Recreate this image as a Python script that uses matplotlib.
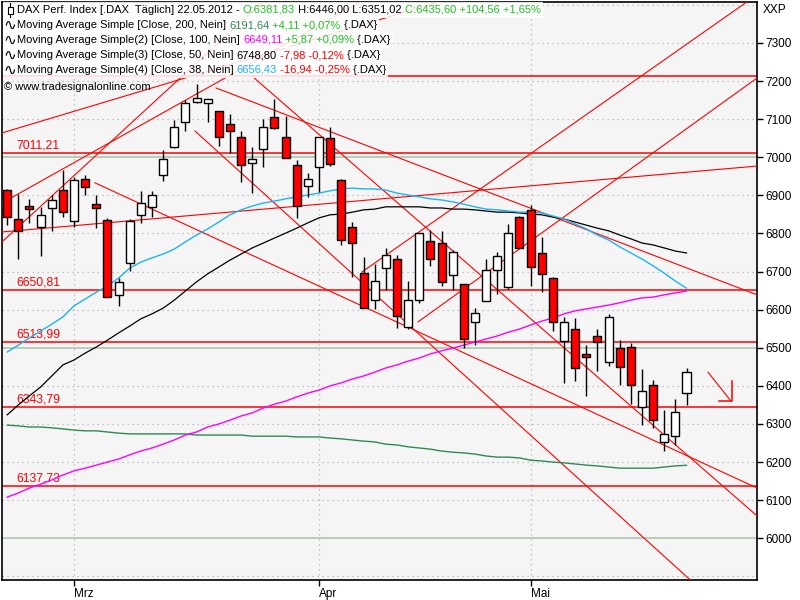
import matplotlib
matplotlib.use("Agg")
import matplotlib.pyplot as plt
from matplotlib.lines import Line2D
from matplotlib.patches import Rectangle
from matplotlib.transforms import Bbox

plt.rcParams['font.family'] = ['Liberation Sans', 'DejaVu Sans']

# --- data (DAX daily, 22.02.2012 - 22.05.2012) ---
dates = ['22.02', '23.02', '24.02', '27.02', '28.02', '29.02',
         '01.03', '02.03', '05.03', '06.03', '07.03', '08.03', '09.03', '12.03', '13.03', '14.03',
         '15.03', '16.03', '19.03', '20.03', '21.03', '22.03', '23.03', '26.03', '27.03', '28.03',
         '29.03', '30.03',
         '02.04', '03.04', '04.04', '05.04', '10.04', '11.04', '12.04', '13.04', '16.04', '17.04',
         '18.04', '19.04', '20.04', '23.04', '24.04', '25.04', '26.04', '27.04', '30.04',
         '02.05', '03.05', '04.05', '07.05', '08.05', '09.05', '10.05', '11.05', '14.05', '15.05',
         '16.05', '17.05', '18.05', '21.05', '22.05']
month_names = {'03': 'Mrz', '04': 'Apr', '05': 'Mai'}

opens = [6914, 6838, 6872, 6817, 6867, 6914, 6833, 6943, 6877, 6835, 6639, 6723, 6849, 6870, 6954, 7027,
         7093, 7145, 7142, 7122, 7087, 7053, 6985, 7022, 7106, 7053, 6980, 6925, 6975, 7051, 6940, 6817,
         6696, 6625, 6709, 6733, 6555, 6625, 6780, 6775, 6691, 6667, 6568, 6623, 6704, 6660, 6843, 6862,
         6749, 6683, 6518, 6549, 6484, 6531, 6463, 6499, 6502, 6345, 6402, 6253, 6268, 6381.83]
highs = [6918, 6904, 6891, 6870, 6901, 6967, 6948, 6954, 6901, 6841, 6683, 6838, 6912, 6912, 7019, 7098,
         7150, 7192, 7153, 7122, 7114, 7069, 7027, 7101, 7153, 7108, 6993, 6959, 7053, 7080, 6943, 6830,
         6738, 6720, 6762, 6744, 6675, 6801, 6809, 6807, 6757, 6667, 6604, 6733, 6751, 6825, 6846, 6875,
         6791, 6686, 6581, 6578, 6507, 6549, 6589, 6520, 6513, 6444, 6415, 6337, 6366, 6446.00]
lows = [6822, 6733, 6828, 6741, 6807, 6843, 6817, 6901, 6814, 6633, 6610, 6702, 6828, 6843, 6938, 7024,
        7069, 7142, 7093, 7030, 7011, 6935, 6906, 6975, 7074, 6998, 6841, 6896, 6909, 6977, 6770, 6686,
        6604, 6602, 6652, 6552, 6549, 6618, 6715, 6662, 6652, 6499, 6507, 6623, 6641, 6654, 6762, 6662,
        6646, 6544, 6408, 6413, 6374, 6439, 6452, 6402, 6352, 6297, 6290, 6229, 6245, 6351.02]
closes = [6843, 6807, 6864, 6849, 6888, 6856, 6940, 6922, 6867, 6633, 6673, 6833, 6880, 6901, 6996, 7080,
          7142, 7156, 7153, 7053, 7069, 6980, 6996, 7080, 7077, 6998, 6872, 6943, 7053, 6982, 6783, 6775,
          6604, 6675, 6744, 6583, 6625, 6801, 6733, 6673, 6751, 6523, 6591, 6704, 6741, 6801, 6762, 6712,
          6694, 6568, 6568, 6447, 6476, 6515, 6581, 6450, 6402, 6387, 6310, 6274, 6331, 6435.60]

sma200 = [6297, 6295, 6292, 6292, 6290, 6287, 6284, 6282, 6282, 6279, 6276, 6274, 6274, 6274, 6274, 6274,
          6274, 6271, 6271, 6271, 6271, 6271, 6268, 6268, 6268, 6268, 6266, 6266, 6266, 6263, 6261, 6258,
          6255, 6253, 6247, 6245, 6240, 6237, 6234, 6229, 6226, 6224, 6221, 6216, 6213, 6213, 6211, 6205,
          6203, 6200, 6198, 6195, 6192, 6190, 6187, 6184, 6184, 6184, 6184, 6187, 6190, 6191.64]
sma100 = [6108, 6119, 6132, 6142, 6153, 6166, 6177, 6184, 6192, 6200, 6208, 6219, 6229, 6237, 6247, 6258,
          6271, 6279, 6292, 6300, 6310, 6321, 6329, 6342, 6352, 6360, 6371, 6381, 6389, 6400, 6408, 6418,
          6426, 6436, 6447, 6455, 6465, 6473, 6484, 6492, 6499, 6507, 6515, 6523, 6531, 6541, 6549, 6560,
          6570, 6578, 6589, 6597, 6602, 6607, 6612, 6618, 6625, 6631, 6633, 6639, 6644, 6649.11]
sma50 = [6324, 6350, 6374, 6397, 6426, 6455, 6468, 6486, 6502, 6520, 6539, 6557, 6576, 6589, 6604, 6625,
         6649, 6673, 6694, 6712, 6730, 6746, 6762, 6775, 6788, 6801, 6814, 6828, 6841, 6849, 6851, 6856,
         6862, 6864, 6870, 6870, 6870, 6870, 6867, 6867, 6864, 6864, 6862, 6859, 6856, 6856, 6854, 6851,
         6849, 6843, 6838, 6830, 6822, 6814, 6807, 6796, 6786, 6775, 6770, 6762, 6754, 6748.80]
sma38 = [6489, 6507, 6526, 6544, 6562, 6581, 6610, 6628, 6646, 6662, 6683, 6709, 6725, 6736, 6746, 6759,
         6778, 6796, 6812, 6830, 6849, 6862, 6872, 6880, 6885, 6891, 6896, 6901, 6906, 6912, 6917, 6919,
         6917, 6917, 6914, 6906, 6901, 6896, 6891, 6888, 6883, 6877, 6870, 6864, 6862, 6859, 6856, 6856,
         6854, 6846, 6838, 6825, 6812, 6796, 6783, 6765, 6749, 6733, 6715, 6696, 6675, 6656.43]

# horizontal support / resistance levels
levels = [7213.0, 7011.21, 6650.81, 6513.99, 6343.79, 6137.73]
level_labels = ['', '7011,21', '6650,81', '6513,99', '6343,79', '6137,73']

# hand-drawn trend lines: start bar, start price, end bar, end price
trend_x0 = [-0.47, -0.47, -0.47, -0.47, 7.88, 16.86, 18.75, 22.07, 31.86, 36.89]
trend_p0 = [7064, 6778, 6880, 6804, 6933, 7069, 7182, 7211, 6699, 6568]
trend_x1 = [38.78, 22.97, 31.77, 67.33, 67.33, 61.32, 67.33, 67.33, 66.43, 67.33]
trend_p1 = [7408, 7408, 7408, 6977, 6132, 5891, 6639, 6059, 7408, 7208]

# small arrow drawn at the right
arrow_x = [62.93, 65.0]
arrow_p = [6436, 6360]
arrow_head_x = [63.92, 65.09, 65.09]
arrow_head_p = [6360, 6360, 6413]

W, H = 800, 600
RED = '#ff0000'
fig = plt.figure(figsize=(8, 6), dpi=100)
ax = fig.add_axes([2 / W, 20 / H, 755 / W, 578 / H])
ax.set_facecolor('#f5f5f5')
xs = list(range(len(dates)))
ax.set_xlim(-0.467, 67.33)
ax.set_ylim(5890.5, 7407.6)

# grid
for v in range(5900, 7401, 100):
    if v % 500 == 0:
        ax.axhline(v, color='#b9ccb9', lw=1.4, zorder=1)
    else:
        ax.axhline(v, color='#b4b4b4', lw=0.9, ls=(0, (1, 3)), zorder=1)
month_idx = [i for i in range(1, len(dates)) if dates[i][3:] != dates[i - 1][3:]]
for i in month_idx:
    ax.axvline(i, color='#a9bda9', lw=0.9, ls=(0, (1, 3)), zorder=1)

# levels
for v, lab in zip(levels, level_labels):
    ax.axhline(v, color=RED, lw=1.1, zorder=2)
    if lab:
        ax.text(0.79, v + 4, lab, color=RED, fontsize=8.8, va='bottom', ha='left', zorder=2)

# trend lines
for a, b, c, d in zip(trend_x0, trend_p0, trend_x1, trend_p1):
    ax.plot([a, c], [b, d], color=RED, lw=0.8, zorder=3)
ax.plot(arrow_x, arrow_p, color=RED, lw=0.8, zorder=3)
ax.plot(arrow_head_x, arrow_head_p, color=RED, lw=1.1, zorder=3)

# moving averages
ax.plot(xs, sma200, color='#2e8b57', lw=1.0, zorder=4)
ax.plot(xs, sma100, color='#ff00ff', lw=1.0, zorder=4)
ax.plot(xs, sma50, color='black', lw=0.9, zorder=4)
ax.plot(xs, sma38, color='#1eb4f0', lw=1.0, zorder=4)

# candles
bottoms = [min(o, c) for o, c in zip(opens, closes)]
heights = [max(abs(c - o), 1.5) for o, c in zip(opens, closes)]
colors = ['white' if c >= o else RED for o, c in zip(opens, closes)]
ax.vlines(xs, lows, highs, color='black', lw=1.0, zorder=5)
ax.bar(xs, heights, bottom=bottoms, width=0.72, color=colors, edgecolor='black', lw=1.0, zorder=6)

# axes styling
for s in ax.spines.values():
    s.set_color('black')
    s.set_linewidth(1.2)
ax.yaxis.tick_right()
ax.set_yticks(range(6000, 7301, 100))
ax.set_yticklabels([str(v) for v in range(6000, 7301, 100)])
ax.set_xticks(month_idx)
ax.set_xticklabels([month_names[dates[i][3:]] for i in month_idx], ha='left')
ax.tick_params(axis='both', direction='out', length=4, width=1, colors='black', labelsize=8.5, pad=2)
fig.text(763 / W, 1 - 10 / H, 'XXP', fontsize=8.5, va='center', ha='left')

# legend header
GREEN = '#22c022'
FS = 8
WAVE = '∿'
legend_rows = [
    (17, 10, [('DAX Perf. Index [.DAX  Täglich] 22.05.2012 - ', 'black'), ('O:6381,83', GREEN),
              (' H:6446,00 L:6351,02 ', 'black'), ('C:6435,60 +104,56 +1,65%', GREEN)]),
    (17, 25, [('Moving Average Simple [Close, 200, Nein] ', 'black'), ('6191,64', '#2e8b57'),
              (' +4,11 +0,07%', GREEN), (' {.DAX}', 'black')]),
    (17, 40, [('Moving Average Simple(2) [Close, 100, Nein] ', 'black'), ('6649,11', '#ff00ff'),
              (' +5,87 +0,09%', GREEN), (' {.DAX}', 'black')]),
    (17, 55, [('Moving Average Simple(3) [Close, 50, Nein] ', 'black'), ('6748,80', 'black'),
              (' -7,98 -0,12%', RED), (' {.DAX}', 'black')]),
    (17, 70, [('Moving Average Simple(4) [Close, 38, Nein] ', 'black'), ('6656,43', '#1eb4f0'),
              (' -16,94 -0,25%', RED), (' {.DAX}', 'black')]),
]
rows_art = []
for x0, yc, parts in legend_rows:
    arts = []
    for s, c in parts:
        if not arts:
            t = ax.annotate(s, xy=(x0, H - yc), xycoords='figure pixels', va='center', ha='left',
                            color=c, fontsize=FS, zorder=21, annotation_clip=False)
        else:
            t = ax.annotate(s, xy=(1, 0.5), xycoords=arts[-1], va='center', ha='left',
                            color=c, fontsize=FS, zorder=21, annotation_clip=False)
        arts.append(t)
    rows_art.append((yc, arts))

renderer = fig.canvas.get_renderer()
for k, (yc, arts) in enumerate(rows_art):
    bb = Bbox.union([a.get_window_extent(renderer) for a in arts])
    rect = Rectangle((3 / 100, (H - yc - 7.5) / 100), (bb.x1 - 1) / 100, 15 / 100,
                     transform=fig.dpi_scale_trans, facecolor='white', alpha=0.85,
                     edgecolor='none', zorder=20, clip_on=False)
    ax.add_artist(rect)
    if k > 0:
        ax.annotate(WAVE, xy=(3, H - yc), xycoords='figure pixels', va='center', ha='left',
                    fontsize=11, family='DejaVu Sans', zorder=21, annotation_clip=False)

# candle icon of the first row
ax.add_artist(Line2D([10 / 100, 10 / 100], [(H - 3) / 100, (H - 17) / 100], color='black', lw=0.8,
                     transform=fig.dpi_scale_trans, zorder=22, clip_on=False))
ax.add_artist(Rectangle((7.5 / 100, (H - 14) / 100), 5 / 100, 7 / 100, facecolor='white', edgecolor='black',
                        lw=0.8, transform=fig.dpi_scale_trans, zorder=22, clip_on=False))

ax.annotate('© www.tradesignalonline.com', xy=(4, H - 87), xycoords='figure pixels', va='center',
            ha='left', fontsize=FS, zorder=21, annotation_clip=False)

fig.savefig('out.png', dpi=100, facecolor='white')
